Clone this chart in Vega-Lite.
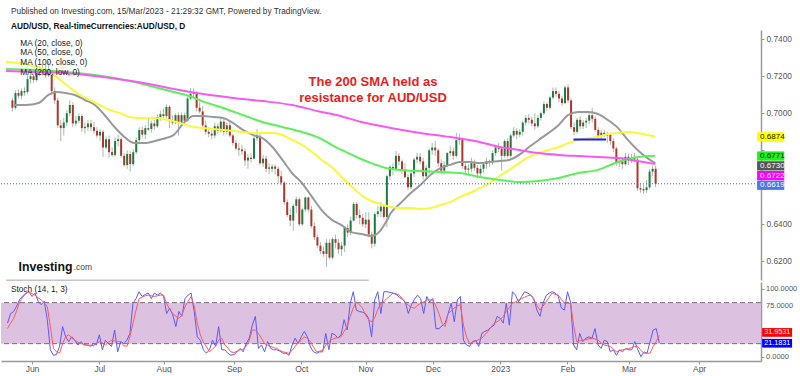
{
"$schema": "https://vega.github.io/schema/vega-lite/v6.json",
"background": "white",
"padding": {"left": 0, "top": 6, "right": 0, "bottom": 0},
"autosize": {"type": "pad"},
"config": {"view": {"stroke": null}, "font": "Liberation Sans"},
"title": {"text": "Published on Investing.com, 15/Mar/2023 - 21:29:32 GMT, Powered by TradingView.", "subtitle": "AUD/USD, Real-timeCurrencies:AUD/USD, D", "anchor": "start", "frame": "group", "dx": 10, "offset": 0, "font": "Liberation Sans", "fontSize": 8.3, "fontWeight": "normal", "color": "#333333", "subtitleFont": "Liberation Sans", "subtitleFontSize": 8.3, "subtitleFontWeight": "bold", "subtitleColor": "#111111", "subtitlePadding": 6.5, "baseline": "top"},
"spacing": 1,
"datasets": {
"candles": [
{"i":-8,"o":0.7070,"h":0.7085,"l":0.7010,"c":0.7030},
{"i":-7,"o":0.7030,"h":0.7125,"l":0.7020,"c":0.7110},
{"i":-6,"o":0.7110,"h":0.7130,"l":0.7080,"c":0.7095},
{"i":-5,"o":0.7095,"h":0.7135,"l":0.7075,"c":0.7120},
{"i":-4,"o":0.7120,"h":0.7140,"l":0.7095,"c":0.7112},
{"i":-3,"o":0.7115,"h":0.7205,"l":0.7105,"c":0.7185},
{"i":-2,"o":0.7185,"h":0.7225,"l":0.7160,"c":0.7200},
{"i":-1,"o":0.7200,"h":0.7215,"l":0.7165,"c":0.7180},
{"i":0,"o":0.7180,"h":0.7260,"l":0.7170,"c":0.7235},
{"i":1,"o":0.7235,"h":0.7255,"l":0.7200,"c":0.7220},
{"i":2,"o":0.7220,"h":0.7265,"l":0.7205,"c":0.7240},
{"i":3,"o":0.7240,"h":0.7265,"l":0.7190,"c":0.7205},
{"i":4,"o":0.7205,"h":0.7280,"l":0.7195,"c":0.7225},
{"i":5,"o":0.7225,"h":0.7235,"l":0.7105,"c":0.7120},
{"i":6,"o":0.7120,"h":0.7140,"l":0.7050,"c":0.7070},
{"i":7,"o":0.7070,"h":0.7085,"l":0.6920,"c":0.6935},
{"i":8,"o":0.6935,"h":0.6965,"l":0.6850,"c":0.6920},
{"i":9,"o":0.6920,"h":0.6975,"l":0.6880,"c":0.6950},
{"i":10,"o":0.6950,"h":0.7015,"l":0.6930,"c":0.7000},
{"i":11,"o":0.7000,"h":0.7070,"l":0.6985,"c":0.7045},
{"i":12,"o":0.7045,"h":0.7060,"l":0.6925,"c":0.6945},
{"i":13,"o":0.6945,"h":0.6985,"l":0.6930,"c":0.6960},
{"i":14,"o":0.6960,"h":0.7000,"l":0.6945,"c":0.6985},
{"i":15,"o":0.6985,"h":0.6995,"l":0.6900,"c":0.6920},
{"i":16,"o":0.6920,"h":0.6950,"l":0.6890,"c":0.6927},
{"i":17,"o":0.6925,"h":0.6965,"l":0.6905,"c":0.6945},
{"i":18,"o":0.6945,"h":0.6965,"l":0.6905,"c":0.6925},
{"i":19,"o":0.6925,"h":0.6955,"l":0.6890,"c":0.6905},
{"i":20,"o":0.6905,"h":0.6925,"l":0.6865,"c":0.6880},
{"i":21,"o":0.6880,"h":0.6915,"l":0.6850,"c":0.6900},
{"i":22,"o":0.6900,"h":0.6910,"l":0.6765,"c":0.6815},
{"i":23,"o":0.6815,"h":0.6875,"l":0.6805,"c":0.6860},
{"i":24,"o":0.6860,"h":0.6880,"l":0.6760,"c":0.6790},
{"i":25,"o":0.6790,"h":0.6815,"l":0.6765,"c":0.6775},
{"i":26,"o":0.6775,"h":0.6870,"l":0.6765,"c":0.6850},
{"i":27,"o":0.6850,"h":0.6885,"l":0.6820,"c":0.6860},
{"i":28,"o":0.6860,"h":0.6870,"l":0.6760,"c":0.6770},
{"i":29,"o":0.6770,"h":0.6785,"l":0.6710,"c":0.6720},
{"i":30,"o":0.6720,"h":0.6800,"l":0.6700,"c":0.6780},
{"i":31,"o":0.6780,"h":0.6795,"l":0.6685,"c":0.6725},
{"i":32,"o":0.6725,"h":0.6805,"l":0.6715,"c":0.6790},
{"i":33,"o":0.6790,"h":0.6870,"l":0.6780,"c":0.6855},
{"i":34,"o":0.6855,"h":0.6925,"l":0.6840,"c":0.6910},
{"i":35,"o":0.6910,"h":0.6930,"l":0.6870,"c":0.6885},
{"i":36,"o":0.6885,"h":0.6935,"l":0.6860,"c":0.6920},
{"i":37,"o":0.6920,"h":0.6975,"l":0.6905,"c":0.6912},
{"i":38,"o":0.6915,"h":0.6960,"l":0.6895,"c":0.6945},
{"i":39,"o":0.6945,"h":0.6965,"l":0.6910,"c":0.6930},
{"i":40,"o":0.6930,"h":0.6995,"l":0.6920,"c":0.6980},
{"i":41,"o":0.6980,"h":0.7015,"l":0.6960,"c":0.6995},
{"i":42,"o":0.6995,"h":0.7025,"l":0.6970,"c":0.6985},
{"i":43,"o":0.6985,"h":0.7050,"l":0.6970,"c":0.7035},
{"i":44,"o":0.7035,"h":0.7045,"l":0.6920,"c":0.6960},
{"i":45,"o":0.6960,"h":0.6990,"l":0.6935,"c":0.6950},
{"i":46,"o":0.6950,"h":0.7000,"l":0.6940,"c":0.6990},
{"i":47,"o":0.6990,"h":0.7005,"l":0.6880,"c":0.6950},
{"i":48,"o":0.6950,"h":0.7005,"l":0.6935,"c":0.6990},
{"i":49,"o":0.6990,"h":0.7000,"l":0.6945,"c":0.6960},
{"i":50,"o":0.6960,"h":0.7090,"l":0.6955,"c":0.7080},
{"i":51,"o":0.7080,"h":0.7137,"l":0.7070,"c":0.7105},
{"i":52,"o":0.7105,"h":0.7135,"l":0.7085,"c":0.7112},
{"i":53,"o":0.7110,"h":0.7120,"l":0.7010,"c":0.7030},
{"i":54,"o":0.7030,"h":0.7060,"l":0.7000,"c":0.7010},
{"i":55,"o":0.7010,"h":0.7040,"l":0.6920,"c":0.6935},
{"i":56,"o":0.6935,"h":0.6960,"l":0.6885,"c":0.6900},
{"i":57,"o":0.6900,"h":0.6925,"l":0.6870,"c":0.6890},
{"i":58,"o":0.6890,"h":0.6910,"l":0.6860,"c":0.6880},
{"i":59,"o":0.6880,"h":0.6950,"l":0.6865,"c":0.6930},
{"i":60,"o":0.6930,"h":0.6945,"l":0.6890,"c":0.6905},
{"i":61,"o":0.6905,"h":0.6980,"l":0.6895,"c":0.6955},
{"i":62,"o":0.6955,"h":0.6975,"l":0.6880,"c":0.6900},
{"i":63,"o":0.6900,"h":0.6950,"l":0.6885,"c":0.6935},
{"i":64,"o":0.6935,"h":0.6955,"l":0.6870,"c":0.6880},
{"i":65,"o":0.6880,"h":0.6890,"l":0.6825,"c":0.6840},
{"i":66,"o":0.6840,"h":0.6855,"l":0.6800,"c":0.6810},
{"i":67,"o":0.6810,"h":0.6840,"l":0.6770,"c":0.6803},
{"i":68,"o":0.6805,"h":0.6830,"l":0.6775,"c":0.6795},
{"i":69,"o":0.6795,"h":0.6810,"l":0.6715,"c":0.6745},
{"i":70,"o":0.6745,"h":0.6780,"l":0.6700,"c":0.6760},
{"i":71,"o":0.6760,"h":0.6785,"l":0.6735,"c":0.6753},
{"i":72,"o":0.6755,"h":0.6880,"l":0.6750,"c":0.6865},
{"i":73,"o":0.6865,"h":0.6915,"l":0.6850,"c":0.6872},
{"i":74,"o":0.6870,"h":0.6895,"l":0.6720,"c":0.6730},
{"i":75,"o":0.6730,"h":0.6775,"l":0.6710,"c":0.6755},
{"i":76,"o":0.6755,"h":0.6770,"l":0.6680,"c":0.6700},
{"i":77,"o":0.6700,"h":0.6730,"l":0.6670,"c":0.6707},
{"i":78,"o":0.6700,"h":0.6725,"l":0.6680,"c":0.6712},
{"i":79,"o":0.6712,"h":0.6725,"l":0.6670,"c":0.6700},
{"i":80,"o":0.6700,"h":0.6715,"l":0.6620,"c":0.6660},
{"i":81,"o":0.6660,"h":0.6690,"l":0.6610,"c":0.6625},
{"i":82,"o":0.6625,"h":0.6635,"l":0.6505,"c":0.6520},
{"i":83,"o":0.6520,"h":0.6535,"l":0.6440,"c":0.6450},
{"i":84,"o":0.6450,"h":0.6485,"l":0.6390,"c":0.6420},
{"i":85,"o":0.6420,"h":0.6510,"l":0.6365,"c":0.6500},
{"i":86,"o":0.6500,"h":0.6550,"l":0.6460,"c":0.6535},
{"i":87,"o":0.6535,"h":0.6545,"l":0.6390,"c":0.6400},
{"i":88,"o":0.6400,"h":0.6490,"l":0.6390,"c":0.6480},
{"i":89,"o":0.6480,"h":0.6550,"l":0.6465,"c":0.6545},
{"i":90,"o":0.6545,"h":0.6550,"l":0.6465,"c":0.6480},
{"i":91,"o":0.6480,"h":0.6500,"l":0.6380,"c":0.6390},
{"i":92,"o":0.6390,"h":0.6410,"l":0.6315,"c":0.6330},
{"i":93,"o":0.6330,"h":0.6345,"l":0.6270,"c":0.6285},
{"i":94,"o":0.6285,"h":0.6305,"l":0.6240,"c":0.6255},
{"i":95,"o":0.6255,"h":0.6280,"l":0.6225,"c":0.6240},
{"i":96,"o":0.6240,"h":0.6320,"l":0.6170,"c":0.6300},
{"i":97,"o":0.6300,"h":0.6320,"l":0.6210,"c":0.6220},
{"i":98,"o":0.6220,"h":0.6330,"l":0.6210,"c":0.6320},
{"i":99,"o":0.6320,"h":0.6345,"l":0.6270,"c":0.6300},
{"i":100,"o":0.6300,"h":0.6320,"l":0.6240,"c":0.6265},
{"i":101,"o":0.6265,"h":0.6305,"l":0.6230,"c":0.6285},
{"i":102,"o":0.6285,"h":0.6390,"l":0.6250,"c":0.6380},
{"i":103,"o":0.6380,"h":0.6400,"l":0.6330,"c":0.6355},
{"i":104,"o":0.6355,"h":0.6440,"l":0.6340,"c":0.6420},
{"i":105,"o":0.6420,"h":0.6520,"l":0.6415,"c":0.6510},
{"i":106,"o":0.6510,"h":0.6520,"l":0.6430,"c":0.6450},
{"i":107,"o":0.6450,"h":0.6480,"l":0.6400,"c":0.6435},
{"i":108,"o":0.6435,"h":0.6455,"l":0.6385,"c":0.6400},
{"i":109,"o":0.6400,"h":0.6465,"l":0.6380,"c":0.6425},
{"i":110,"o":0.6425,"h":0.6465,"l":0.6330,"c":0.6345},
{"i":111,"o":0.6345,"h":0.6360,"l":0.6270,"c":0.6295},
{"i":112,"o":0.6295,"h":0.6465,"l":0.6280,"c":0.6455},
{"i":113,"o":0.6455,"h":0.6500,"l":0.6440,"c":0.6470},
{"i":114,"o":0.6470,"h":0.6520,"l":0.6440,"c":0.6495},
{"i":115,"o":0.6495,"h":0.6510,"l":0.6430,"c":0.6440},
{"i":116,"o":0.6440,"h":0.6670,"l":0.6385,"c":0.6660},
{"i":117,"o":0.6660,"h":0.6720,"l":0.6640,"c":0.6710},
{"i":118,"o":0.6710,"h":0.6730,"l":0.6665,"c":0.6695},
{"i":119,"o":0.6695,"h":0.6797,"l":0.6685,"c":0.6770},
{"i":120,"o":0.6770,"h":0.6785,"l":0.6720,"c":0.6740},
{"i":121,"o":0.6740,"h":0.6750,"l":0.6670,"c":0.6695},
{"i":122,"o":0.6695,"h":0.6730,"l":0.6650,"c":0.6655},
{"i":123,"o":0.6655,"h":0.6670,"l":0.6585,"c":0.6600},
{"i":124,"o":0.6600,"h":0.6690,"l":0.6590,"c":0.6675},
{"i":125,"o":0.6675,"h":0.6760,"l":0.6655,"c":0.6750},
{"i":126,"o":0.6750,"h":0.6785,"l":0.6730,"c":0.6765},
{"i":127,"o":0.6765,"h":0.6785,"l":0.6725,"c":0.6740},
{"i":128,"o":0.6740,"h":0.6760,"l":0.6640,"c":0.6660},
{"i":129,"o":0.6660,"h":0.6720,"l":0.6645,"c":0.6705},
{"i":130,"o":0.6705,"h":0.6810,"l":0.6670,"c":0.6800},
{"i":131,"o":0.6800,"h":0.6840,"l":0.6775,"c":0.6815},
{"i":132,"o":0.6815,"h":0.6850,"l":0.6770,"c":0.6800},
{"i":133,"o":0.6800,"h":0.6810,"l":0.6710,"c":0.6730},
{"i":134,"o":0.6730,"h":0.6750,"l":0.6670,"c":0.6690},
{"i":135,"o":0.6690,"h":0.6740,"l":0.6670,"c":0.6720},
{"i":136,"o":0.6720,"h":0.6790,"l":0.6710,"c":0.6785},
{"i":137,"o":0.6785,"h":0.6825,"l":0.6770,"c":0.6795},
{"i":138,"o":0.6795,"h":0.6815,"l":0.6750,"c":0.6770},
{"i":139,"o":0.6770,"h":0.6895,"l":0.6760,"c":0.6855},
{"i":140,"o":0.6855,"h":0.6890,"l":0.6830,"c":0.6862},
{"i":141,"o":0.6860,"h":0.6870,"l":0.6700,"c":0.6715},
{"i":142,"o":0.6715,"h":0.6735,"l":0.6670,"c":0.6695},
{"i":143,"o":0.6695,"h":0.6725,"l":0.6660,"c":0.6702},
{"i":144,"o":0.6700,"h":0.6760,"l":0.6680,"c":0.6730},
{"i":145,"o":0.6730,"h":0.6750,"l":0.6690,"c":0.6705},
{"i":146,"o":0.6705,"h":0.6720,"l":0.6650,"c":0.6675},
{"i":147,"o":0.6675,"h":0.6720,"l":0.6660,"c":0.6700},
{"i":148,"o":0.6700,"h":0.6730,"l":0.6680,"c":0.6725},
{"i":149,"o":0.6725,"h":0.6760,"l":0.6700,"c":0.6740},
{"i":150,"o":0.6740,"h":0.6750,"l":0.6710,"c":0.6733},
{"i":151,"o":0.6735,"h":0.6800,"l":0.6720,"c":0.6785},
{"i":152,"o":0.6785,"h":0.6830,"l":0.6770,"c":0.6815},
{"i":153,"o":0.6815,"h":0.6840,"l":0.6790,"c":0.6808},
{"i":154,"o":0.6810,"h":0.6820,"l":0.6690,"c":0.6770},
{"i":155,"o":0.6770,"h":0.6860,"l":0.6760,"c":0.6850},
{"i":156,"o":0.6850,"h":0.6865,"l":0.6760,"c":0.6770},
{"i":157,"o":0.6770,"h":0.6890,"l":0.6760,"c":0.6880},
{"i":158,"o":0.6880,"h":0.6925,"l":0.6870,"c":0.6905},
{"i":159,"o":0.6905,"h":0.6920,"l":0.6860,"c":0.6885},
{"i":160,"o":0.6885,"h":0.6915,"l":0.6870,"c":0.6900},
{"i":161,"o":0.6900,"h":0.6960,"l":0.6880,"c":0.6950},
{"i":162,"o":0.6950,"h":0.6990,"l":0.6935,"c":0.6975},
{"i":163,"o":0.6975,"h":0.6995,"l":0.6945,"c":0.6965},
{"i":164,"o":0.6965,"h":0.6980,"l":0.6930,"c":0.6945},
{"i":165,"o":0.6945,"h":0.7000,"l":0.6910,"c":0.6930},
{"i":166,"o":0.6930,"h":0.6990,"l":0.6920,"c":0.6975},
{"i":167,"o":0.6975,"h":0.7010,"l":0.6960,"c":0.7000},
{"i":168,"o":0.7000,"h":0.7065,"l":0.6990,"c":0.7050},
{"i":169,"o":0.7050,"h":0.7060,"l":0.7015,"c":0.7030},
{"i":170,"o":0.7030,"h":0.7095,"l":0.7020,"c":0.7085},
{"i":171,"o":0.7085,"h":0.7140,"l":0.7075,"c":0.7120},
{"i":172,"o":0.7120,"h":0.7140,"l":0.7090,"c":0.7105},
{"i":173,"o":0.7105,"h":0.7120,"l":0.7060,"c":0.7080},
{"i":174,"o":0.7080,"h":0.7095,"l":0.7040,"c":0.7055},
{"i":175,"o":0.7055,"h":0.7150,"l":0.7050,"c":0.7140},
{"i":176,"o":0.7140,"h":0.7157,"l":0.7055,"c":0.7070},
{"i":177,"o":0.7070,"h":0.7080,"l":0.6915,"c":0.6925},
{"i":178,"o":0.6925,"h":0.6950,"l":0.6880,"c":0.6900},
{"i":179,"o":0.6900,"h":0.6975,"l":0.6890,"c":0.6965},
{"i":180,"o":0.6965,"h":0.6985,"l":0.6915,"c":0.6930},
{"i":181,"o":0.6930,"h":0.6965,"l":0.6915,"c":0.6950},
{"i":182,"o":0.6950,"h":0.6975,"l":0.6920,"c":0.6960},
{"i":183,"o":0.6960,"h":0.7010,"l":0.6940,"c":0.6990},
{"i":184,"o":0.6990,"h":0.7030,"l":0.6950,"c":0.6970},
{"i":185,"o":0.6970,"h":0.6985,"l":0.6900,"c":0.6910},
{"i":186,"o":0.6910,"h":0.6925,"l":0.6860,"c":0.6880},
{"i":187,"o":0.6880,"h":0.6910,"l":0.6855,"c":0.6895},
{"i":188,"o":0.6895,"h":0.6910,"l":0.6870,"c":0.6880},
{"i":189,"o":0.6880,"h":0.6900,"l":0.6840,"c":0.6887},
{"i":190,"o":0.6885,"h":0.6895,"l":0.6830,"c":0.6850},
{"i":191,"o":0.6850,"h":0.6865,"l":0.6790,"c":0.6810},
{"i":192,"o":0.6810,"h":0.6820,"l":0.6715,"c":0.6735},
{"i":193,"o":0.6735,"h":0.6760,"l":0.6710,"c":0.6742},
{"i":194,"o":0.6740,"h":0.6765,"l":0.6700,"c":0.6725},
{"i":195,"o":0.6725,"h":0.6785,"l":0.6715,"c":0.6765},
{"i":196,"o":0.6765,"h":0.6780,"l":0.6720,"c":0.6745},
{"i":197,"o":0.6745,"h":0.6780,"l":0.6730,"c":0.6760},
{"i":198,"o":0.6760,"h":0.6785,"l":0.6735,"c":0.6750},
{"i":199,"o":0.6750,"h":0.6760,"l":0.6580,"c":0.6595},
{"i":200,"o":0.6595,"h":0.6620,"l":0.6570,"c":0.6588},
{"i":201,"o":0.6590,"h":0.6615,"l":0.6565,"c":0.6583},
{"i":202,"o":0.6585,"h":0.6640,"l":0.6570,"c":0.6600},
{"i":203,"o":0.6600,"h":0.6700,"l":0.6590,"c":0.6685},
{"i":204,"o":0.6685,"h":0.6715,"l":0.6660,"c":0.6700},
{"i":205,"o":0.6700,"h":0.6715,"l":0.6600,"c":0.6619}
],
"ma": [
{"m":"20","i":-7.5,"v":0.7045},{"m":"20","i":-3.6,"v":0.7045},{"m":"20","i":0.7,"v":0.7056},{"m":"20","i":3.9,"v":0.7099},{"m":"20","i":6.9,"v":0.7115},{"m":"20","i":9.5,"v":0.7110},{"m":"20","i":12.7,"v":0.7099},{"m":"20","i":16,"v":0.7072},{"m":"20","i":19.3,"v":0.7045},{"m":"20","i":22.5,"v":0.6991},{"m":"20","i":25.8,"v":0.6926},{"m":"20","i":29.1,"v":0.6872},{"m":"20","i":32.4,"v":0.6839},{"m":"20","i":35.6,"v":0.6839},{"m":"20","i":40.5,"v":0.6856},{"m":"20","i":45.4,"v":0.6883},{"m":"20","i":48.7,"v":0.6948},{"m":"20","i":52,"v":0.6985},{"m":"20","i":55.2,"v":0.6985},{"m":"20","i":58.5,"v":0.6980},{"m":"20","i":61.8,"v":0.6975},{"m":"20","i":65,"v":0.6948},{"m":"20","i":68.3,"v":0.6910},{"m":"20","i":71.6,"v":0.6883},{"m":"20","i":74.8,"v":0.6866},{"m":"20","i":78.1,"v":0.6818},{"m":"20","i":81.4,"v":0.6748},{"m":"20","i":84.6,"v":0.6677},{"m":"20","i":87.9,"v":0.6623},{"m":"20","i":91.2,"v":0.6548},{"m":"20","i":94.4,"v":0.6477},{"m":"20","i":97.7,"v":0.6425},{"m":"20","i":101,"v":0.6396},{"m":"20","i":104.2,"v":0.6358},{"m":"20","i":107.5,"v":0.6348},{"m":"20","i":110.8,"v":0.6337},{"m":"20","i":114,"v":0.6369},{"m":"20","i":115.7,"v":0.6412},{"m":"20","i":117.3,"v":0.6461},{"m":"20","i":120.6,"v":0.6515},{"m":"20","i":123.9,"v":0.6569},{"m":"20","i":127.1,"v":0.6612},{"m":"20","i":130.4,"v":0.6667},{"m":"20","i":133.7,"v":0.6704},{"m":"20","i":136.9,"v":0.6721},{"m":"20","i":140.2,"v":0.6737},{"m":"20","i":143.5,"v":0.6737},{"m":"20","i":146.7,"v":0.6731},{"m":"20","i":150,"v":0.6737},{"m":"20","i":153.3,"v":0.6742},{"m":"20","i":156.5,"v":0.6748},{"m":"20","i":159.8,"v":0.6775},{"m":"20","i":163.1,"v":0.6818},{"m":"20","i":166.3,"v":0.6856},{"m":"20","i":169.6,"v":0.6894},{"m":"20","i":172.9,"v":0.6937},{"m":"20","i":176.1,"v":0.6991},{"m":"20","i":179.4,"v":0.7007},{"m":"20","i":182.7,"v":0.7007},{"m":"20","i":185.9,"v":0.6996},{"m":"20","i":189.2,"v":0.6964},{"m":"20","i":192.5,"v":0.6921},{"m":"20","i":195.8,"v":0.6856},{"m":"20","i":199,"v":0.6802},{"m":"20","i":202.3,"v":0.6758},{"m":"20","i":204.9,"v":0.6730},
{"m":"50","i":-10.1,"v":0.7277},{"m":"50","i":-3.6,"v":0.7266},{"m":"50","i":1.3,"v":0.7245},{"m":"50","i":4.6,"v":0.7218},{"m":"50","i":7.8,"v":0.7180},{"m":"50","i":11.1,"v":0.7137},{"m":"50","i":14.4,"v":0.7099},{"m":"50","i":17.6,"v":0.7072},{"m":"50","i":20.9,"v":0.7045},{"m":"50","i":24.2,"v":0.7018},{"m":"50","i":27.5,"v":0.7002},{"m":"50","i":30.7,"v":0.6980},{"m":"50","i":34,"v":0.6975},{"m":"50","i":38.9,"v":0.6975},{"m":"50","i":43.8,"v":0.6964},{"m":"50","i":48.7,"v":0.6942},{"m":"50","i":52,"v":0.6926},{"m":"50","i":55.2,"v":0.6921},{"m":"50","i":58.5,"v":0.6915},{"m":"50","i":61.8,"v":0.6910},{"m":"50","i":65,"v":0.6904},{"m":"50","i":68.3,"v":0.6899},{"m":"50","i":71.6,"v":0.6894},{"m":"50","i":74.8,"v":0.6894},{"m":"50","i":78.1,"v":0.6894},{"m":"50","i":81.4,"v":0.6883},{"m":"50","i":84.6,"v":0.6856},{"m":"50","i":87.9,"v":0.6829},{"m":"50","i":91.2,"v":0.6791},{"m":"50","i":94.4,"v":0.6748},{"m":"50","i":97.7,"v":0.6710},{"m":"50","i":101,"v":0.6656},{"m":"50","i":104.2,"v":0.6607},{"m":"50","i":107.5,"v":0.6558},{"m":"50","i":110.8,"v":0.6526},{"m":"50","i":114,"v":0.6510},{"m":"50","i":117.3,"v":0.6494},{"m":"50","i":120.6,"v":0.6488},{"m":"50","i":123.9,"v":0.6488},{"m":"50","i":127.1,"v":0.6483},{"m":"50","i":130.4,"v":0.6488},{"m":"50","i":133.7,"v":0.6504},{"m":"50","i":136.9,"v":0.6520},{"m":"50","i":140.2,"v":0.6548},{"m":"50","i":143.5,"v":0.6569},{"m":"50","i":146.7,"v":0.6596},{"m":"50","i":150,"v":0.6623},{"m":"50","i":153.3,"v":0.6661},{"m":"50","i":156.5,"v":0.6694},{"m":"50","i":159.8,"v":0.6731},{"m":"50","i":163.1,"v":0.6764},{"m":"50","i":166.3,"v":0.6785},{"m":"50","i":169.6,"v":0.6802},{"m":"50","i":172.9,"v":0.6818},{"m":"50","i":176.1,"v":0.6839},{"m":"50","i":179.4,"v":0.6856},{"m":"50","i":182.7,"v":0.6866},{"m":"50","i":185.9,"v":0.6872},{"m":"50","i":189.2,"v":0.6888},{"m":"50","i":192.5,"v":0.6894},{"m":"50","i":195.8,"v":0.6899},{"m":"50","i":199,"v":0.6894},{"m":"50","i":202.3,"v":0.6883},{"m":"50","i":204.9,"v":0.6874},
{"m":"100","i":-10.1,"v":0.7239},{"m":"100","i":-0.3,"v":0.7234},{"m":"100","i":9.5,"v":0.7223},{"m":"100","i":19.3,"v":0.7207},{"m":"100","i":25.8,"v":0.7191},{"m":"100","i":32.4,"v":0.7169},{"m":"100","i":38.9,"v":0.7142},{"m":"100","i":45.4,"v":0.7115},{"m":"100","i":50.3,"v":0.7095},{"m":"100","i":55.2,"v":0.7063},{"m":"100","i":61.8,"v":0.7029},{"m":"100","i":68.3,"v":0.6991},{"m":"100","i":74.8,"v":0.6953},{"m":"100","i":81.4,"v":0.6926},{"m":"100","i":87.9,"v":0.6899},{"m":"100","i":94.4,"v":0.6861},{"m":"100","i":97.7,"v":0.6829},{"m":"100","i":101,"v":0.6802},{"m":"100","i":105.9,"v":0.6764},{"m":"100","i":110.8,"v":0.6731},{"m":"100","i":115.7,"v":0.6704},{"m":"100","i":120.6,"v":0.6694},{"m":"100","i":127.1,"v":0.6688},{"m":"100","i":133.7,"v":0.6683},{"m":"100","i":140.2,"v":0.6677},{"m":"100","i":146.7,"v":0.6656},{"m":"100","i":153.3,"v":0.6640},{"m":"100","i":159.8,"v":0.6629},{"m":"100","i":166.3,"v":0.6634},{"m":"100","i":172.9,"v":0.6650},{"m":"100","i":179.4,"v":0.6677},{"m":"100","i":185.9,"v":0.6694},{"m":"100","i":192.5,"v":0.6737},{"m":"100","i":199,"v":0.6764},{"m":"100","i":204.9,"v":0.6771},
{"m":"200","i":-10.1,"v":0.7229},{"m":"200","i":-0.3,"v":0.7223},{"m":"200","i":9.5,"v":0.7218},{"m":"200","i":19.3,"v":0.7202},{"m":"200","i":29.1,"v":0.7180},{"m":"200","i":38.9,"v":0.7153},{"m":"200","i":45.4,"v":0.7131},{"m":"200","i":55.2,"v":0.7104},{"m":"200","i":65,"v":0.7083},{"m":"200","i":74.8,"v":0.7066},{"m":"200","i":84.6,"v":0.7045},{"m":"200","i":94.4,"v":0.7007},{"m":"200","i":99.3,"v":0.6991},{"m":"200","i":107.5,"v":0.6953},{"m":"200","i":117.3,"v":0.6921},{"m":"200","i":127.1,"v":0.6894},{"m":"200","i":136.9,"v":0.6872},{"m":"200","i":146.7,"v":0.6845},{"m":"200","i":153.3,"v":0.6818},{"m":"200","i":159.8,"v":0.6802},{"m":"200","i":166.3,"v":0.6785},{"m":"200","i":172.9,"v":0.6775},{"m":"200","i":179.4,"v":0.6769},{"m":"200","i":185.9,"v":0.6764},{"m":"200","i":192.5,"v":0.6758},{"m":"200","i":199,"v":0.6742},{"m":"200","i":204.9,"v":0.6726}
],
"stoch": [
{"i":-8,"k":50,"d":42},{"i":-7,"k":64,"d":50},{"i":-6,"k":67,"d":57},{"i":-5,"k":75,"d":68},{"i":-4,"k":85,"d":81},{"i":-3,"k":90,"d":88},{"i":-2,"k":94,"d":93},{"i":-1,"k":96,"d":96},{"i":0,"k":89,"d":93},{"i":1,"k":94,"d":91},{"i":2,"k":82,"d":87},{"i":3,"k":77,"d":84},{"i":4,"k":82,"d":80},{"i":5,"k":55,"d":74},{"i":6,"k":11,"d":45},{"i":7,"k":3,"d":13},{"i":8,"k":4,"d":8},{"i":9,"k":16,"d":6},{"i":10,"k":45,"d":20},{"i":11,"k":30,"d":30},{"i":12,"k":23,"d":33},{"i":13,"k":30,"d":28},{"i":14,"k":25,"d":25},{"i":15,"k":18,"d":22},{"i":16,"k":23,"d":20},{"i":17,"k":18,"d":19},{"i":18,"k":18,"d":18},{"i":19,"k":16,"d":18},{"i":20,"k":20,"d":17},{"i":21,"k":18,"d":20},{"i":22,"k":33,"d":23},{"i":23,"k":11,"d":21},{"i":24,"k":25,"d":18},{"i":25,"k":20,"d":22},{"i":26,"k":16,"d":25},{"i":27,"k":40,"d":24},{"i":28,"k":8,"d":23},{"i":29,"k":23,"d":23},{"i":30,"k":20,"d":17},{"i":31,"k":25,"d":16},{"i":32,"k":35,"d":30},{"i":33,"k":79,"d":50},{"i":34,"k":86,"d":69},{"i":35,"k":96,"d":86},{"i":36,"k":89,"d":88},{"i":37,"k":92,"d":90},{"i":38,"k":94,"d":91},{"i":39,"k":86,"d":90},{"i":40,"k":94,"d":89},{"i":41,"k":91,"d":90},{"i":42,"k":94,"d":91},{"i":43,"k":89,"d":91},{"i":44,"k":64,"d":79},{"i":45,"k":72,"d":70},{"i":46,"k":62,"d":64},{"i":47,"k":45,"d":60},{"i":48,"k":67,"d":57},{"i":49,"k":60,"d":62},{"i":50,"k":86,"d":74},{"i":51,"k":91,"d":82},{"i":52,"k":94,"d":89},{"i":53,"k":67,"d":75},{"i":54,"k":30,"d":50},{"i":55,"k":25,"d":33},{"i":56,"k":11,"d":22},{"i":57,"k":6,"d":16},{"i":58,"k":11,"d":8},{"i":59,"k":25,"d":12},{"i":60,"k":16,"d":16},{"i":61,"k":45,"d":25},{"i":62,"k":11,"d":28},{"i":63,"k":11,"d":18},{"i":64,"k":6,"d":14},{"i":65,"k":3,"d":8},{"i":66,"k":4,"d":7},{"i":67,"k":8,"d":9},{"i":68,"k":13,"d":11},{"i":69,"k":8,"d":12},{"i":70,"k":20,"d":16},{"i":71,"k":28,"d":25},{"i":72,"k":47,"d":40},{"i":73,"k":60,"d":40},{"i":74,"k":13,"d":35},{"i":75,"k":18,"d":28},{"i":76,"k":8,"d":20},{"i":77,"k":23,"d":18},{"i":78,"k":13,"d":16},{"i":79,"k":11,"d":14},{"i":80,"k":11,"d":13},{"i":81,"k":9,"d":10},{"i":82,"k":6,"d":8},{"i":83,"k":6,"d":7},{"i":84,"k":3,"d":6},{"i":85,"k":18,"d":10},{"i":86,"k":28,"d":16},{"i":87,"k":20,"d":22},{"i":88,"k":30,"d":25},{"i":89,"k":38,"d":30},{"i":90,"k":30,"d":28},{"i":91,"k":15,"d":23},{"i":92,"k":8,"d":15},{"i":93,"k":6,"d":8},{"i":94,"k":8,"d":9},{"i":95,"k":8,"d":10},{"i":96,"k":35,"d":18},{"i":97,"k":11,"d":23},{"i":98,"k":35,"d":26},{"i":99,"k":33,"d":28},{"i":100,"k":28,"d":29},{"i":101,"k":33,"d":30},{"i":102,"k":55,"d":38},{"i":103,"k":40,"d":45},{"i":104,"k":79,"d":60},{"i":105,"k":96,"d":72},{"i":106,"k":69,"d":81},{"i":107,"k":67,"d":77},{"i":108,"k":66,"d":72},{"i":109,"k":64,"d":62},{"i":110,"k":57,"d":55},{"i":111,"k":30,"d":52},{"i":112,"k":84,"d":58},{"i":113,"k":96,"d":70},{"i":114,"k":64,"d":79},{"i":115,"k":96,"d":82},{"i":116,"k":96,"d":86},{"i":117,"k":95,"d":90},{"i":118,"k":94,"d":94},{"i":119,"k":92,"d":93},{"i":120,"k":88,"d":91},{"i":121,"k":85,"d":86},{"i":122,"k":81,"d":80},{"i":123,"k":64,"d":76},{"i":124,"k":77,"d":73},{"i":125,"k":85,"d":72},{"i":126,"k":91,"d":76},{"i":127,"k":86,"d":79},{"i":128,"k":64,"d":81},{"i":129,"k":89,"d":84},{"i":130,"k":81,"d":84},{"i":131,"k":86,"d":84},{"i":132,"k":42,"d":75},{"i":133,"k":42,"d":64},{"i":134,"k":46,"d":50},{"i":135,"k":50,"d":45},{"i":136,"k":64,"d":64},{"i":137,"k":79,"d":68},{"i":138,"k":52,"d":72},{"i":139,"k":84,"d":75},{"i":140,"k":89,"d":77},{"i":141,"k":25,"d":47},{"i":142,"k":18,"d":30},{"i":143,"k":16,"d":20},{"i":144,"k":23,"d":22},{"i":145,"k":25,"d":24},{"i":146,"k":16,"d":26},{"i":147,"k":35,"d":28},{"i":148,"k":38,"d":33},{"i":149,"k":40,"d":38},{"i":150,"k":44,"d":44},{"i":151,"k":47,"d":50},{"i":152,"k":60,"d":52},{"i":153,"k":57,"d":55},{"i":154,"k":50,"d":60},{"i":155,"k":79,"d":67},{"i":156,"k":47,"d":73},{"i":157,"k":96,"d":79},{"i":158,"k":91,"d":81},{"i":159,"k":81,"d":84},{"i":160,"k":89,"d":86},{"i":161,"k":96,"d":88},{"i":162,"k":94,"d":90},{"i":163,"k":91,"d":91},{"i":164,"k":86,"d":84},{"i":165,"k":69,"d":76},{"i":166,"k":60,"d":69},{"i":167,"k":79,"d":75},{"i":168,"k":90,"d":81},{"i":169,"k":94,"d":88},{"i":170,"k":96,"d":94},{"i":171,"k":94,"d":92},{"i":172,"k":89,"d":91},{"i":173,"k":72,"d":85},{"i":174,"k":69,"d":79},{"i":175,"k":96,"d":79},{"i":176,"k":81,"d":79},{"i":177,"k":18,"d":47},{"i":178,"k":11,"d":23},{"i":179,"k":35,"d":24},{"i":180,"k":23,"d":25},{"i":181,"k":28,"d":26},{"i":182,"k":30,"d":27},{"i":183,"k":28,"d":28},{"i":184,"k":42,"d":27},{"i":185,"k":18,"d":25},{"i":186,"k":13,"d":21},{"i":187,"k":25,"d":18},{"i":188,"k":23,"d":17},{"i":189,"k":8,"d":16},{"i":190,"k":11,"d":12},{"i":191,"k":3,"d":8},{"i":192,"k":11,"d":10},{"i":193,"k":8,"d":11},{"i":194,"k":13,"d":12},{"i":195,"k":11,"d":13},{"i":196,"k":11,"d":14},{"i":197,"k":23,"d":16},{"i":198,"k":11,"d":16},{"i":199,"k":1,"d":10},{"i":200,"k":8,"d":6},{"i":201,"k":6,"d":6},{"i":202,"k":23,"d":6},{"i":203,"k":40,"d":16},{"i":204,"k":42,"d":23},{"i":205,"k":21.1831,"d":31.9531}
],
"pbadge": [
{"s":"MA50","lab":"0.6874","at":0.6873},
{"s":"MA100","lab":"0.6771","at":0.6769},
{"s":"MA20","lab":"0.6730","at":0.6716},
{"s":"MA200","lab":"0.6722","at":0.6663},
{"s":"Price","lab":"0.6619","at":0.6611}
],
"sbadge": [
{"s":"D","lab":"31.9531","at":36.4},
{"s":"K","lab":"21.1831","at":20.6}
],
"slabels": [
{"t":"75.0000","v":75},
{"t":"0.0000","v":0}
]
},
"vconcat": [
{
"width": 760,
"height": 250,
"layer": [
{"data": {"name": "candles"},
 "mark": {"type": "rule", "color": "#a9bbb0", "strokeWidth": 1},
 "encoding": {
  "x": {"field": "i", "type": "quantitative", "scale": {"domain": [-10.13, 238.24], "nice": false, "zero": false}, "axis": null},
  "y": {"field": "l", "type": "quantitative", "scale": {"domain": [0.60989, 0.74503], "nice": false, "zero": false},
        "axis": {"orient": "right", "values": [0.62,0.63,0.64,0.65,0.66,0.67,0.68,0.69,0.70,0.71,0.72,0.73,0.74], "labelExpr": "datum.value > 0.655 && datum.value < 0.685 ? '' : format(datum.value, '.4f')", "title": null, "grid": false, "labelFontSize": 8.3, "labelColor": "#555555", "labelFont": "Liberation Sans", "tickColor": "#999999", "domainColor": "#999999", "domainWidth": 1.5, "tickSize": 3, "labelPadding": 2}},
  "y2": {"field": "h"}
 }},
{"data": {"name": "candles"},
 "mark": {"type": "bar", "size": 2},
 "encoding": {
  "x": {"field": "i", "type": "quantitative", "axis": null},
  "y": {"field": "o", "type": "quantitative"},
  "y2": {"field": "c"},
  "color": {"condition": {"test": "datum.c >= datum.o", "value": "#1e7b40"}, "value": "#b2352b"}
 }},
{"data": {"name": "ma"},
 "mark": {"type": "line", "strokeWidth": 2, "interpolate": "monotone"},
 "encoding": {
  "x": {"field": "i", "type": "quantitative", "axis": null},
  "y": {"field": "v", "type": "quantitative"},
  "color": {"field": "m", "type": "nominal",
    "scale": {"domain": ["20","50","100","200"], "range": ["#999999","#f8f83c","#5cf05c","#f55af5"]},
    "legend": {"orient": "none", "legendX": 11, "legendY": 9.5, "title": null, "symbolSize": 0, "symbolOpacity": 0, "symbolStrokeWidth": 0, "labelOffset": 0, "labelFontSize": 8.3, "labelFont": "Liberation Sans", "labelColor": "#222222", "rowPadding": 0.8,
      "labelExpr": "'MA (' + datum.label + ', ' + (datum.label == '200' ? 'low' : 'close') + ', 0)'"}}
 }},
{"data": {"values": [{}]},
 "mark": {"type": "rule", "color": "#3a5fe0", "strokeDash": [1, 2], "strokeWidth": 1},
 "encoding": {"y": {"datum": 0.6619, "type": "quantitative"}}},
{"data": {"values": [{}]},
 "mark": {"type": "rule", "color": "#1a1aff", "strokeWidth": 2},
 "encoding": {"x": {"datum": 177.8, "type": "quantitative", "axis": null}, "x2": {"datum": 188.6}, "y": {"datum": 0.6858, "type": "quantitative"}}},
{"data": {"values": [{}]},
 "mark": {"type": "rule", "color": "#c4c4c4", "strokeWidth": 1.5},
 "encoding": {"x": {"datum": -10.13, "type": "quantitative", "axis": null}, "x2": {"datum": 110}, "y": {"datum": 0.6098, "type": "quantitative"}}},
{"data": {"values": [{"note": "The 200 SMA held as\nresistance for AUD/USD"}]},
 "mark": {"type": "text", "color": "#ee1c1c", "fontSize": 13, "fontWeight": "bold", "font": "Liberation Sans", "align": "center", "baseline": "middle", "lineBreak": "\n", "lineHeight": 16},
 "encoding": {"x": {"datum": 111.4, "type": "quantitative", "axis": null}, "y": {"datum": 0.7169, "type": "quantitative"}, "text": {"field": "note"}}},
{"data": {"values": [{"t": "Investing"}]},
 "mark": {"type": "text", "color": "#111111", "fontSize": 12.3, "fontWeight": "bold", "font": "Liberation Sans", "align": "left", "baseline": "middle"},
 "encoding": {"x": {"datum": -5.98, "type": "quantitative", "axis": null}, "y": {"datum": 0.6171, "type": "quantitative"}, "text": {"field": "t"}}},
{"data": {"values": [{"t": ".com"}]},
 "mark": {"type": "text", "color": "#444444", "fontSize": 8.5, "font": "Liberation Sans", "align": "left", "baseline": "middle"},
 "encoding": {"x": {"datum": 12.3, "type": "quantitative", "axis": null}, "y": {"datum": 0.6167, "type": "quantitative"}, "text": {"field": "t"}}},
{"data": {"name": "pbadge"},
 "transform": [{"calculate": "datum.at + 0.0025", "as": "top"}, {"calculate": "datum.at - 0.0025", "as": "bot"}],
 "mark": {"type": "rect"},
 "encoding": {"x": {"datum": 238.6, "type": "quantitative", "axis": null}, "x2": {"datum": 247.6},
  "y": {"field": "top", "type": "quantitative"}, "y2": {"field": "bot"},
  "fill": {"condition": [{"test": "datum.s === 'MA50'", "value": "#ffff00"}, {"test": "datum.s === 'MA100'", "value": "#1ef01e"}, {"test": "datum.s === 'MA20'", "value": "#555555"}, {"test": "datum.s === 'MA200'", "value": "#ff00ff"}], "value": "#4a78e6"}}},
{"data": {"name": "pbadge"},
 "mark": {"type": "text", "fontSize": 8, "font": "Liberation Sans", "align": "left", "baseline": "middle"},
 "encoding": {"x": {"datum": 239.6, "type": "quantitative", "axis": null},
  "y": {"field": "at", "type": "quantitative"}, "text": {"field": "lab"},
  "color": {"condition": [{"test": "datum.s === 'MA50' || datum.s === 'MA100'", "value": "#111111"}], "value": "#ffffff"}}}
]
},
{
"width": 760,
"height": 79,
"layer": [
{"data": {"values": [{}]},
 "mark": {"type": "rect", "color": "#ddc1e1"},
 "encoding": {
  "x": {"datum": -10.13, "type": "quantitative", "scale": {"domain": [-10.13, 238.24], "nice": false, "zero": false},
        "axis": {"values": [0,22,43,66,88,109,131,153,175,195,218], "labelExpr": "['Jun','Jul','Aug','Sep','Oct','Nov','Dec','2023','Feb','Mar','Apr'][indexof([0,22,43,66,88,109,131,153,175,195,218], datum.value)]", "title": null, "grid": false, "labelFontSize": 8.5, "labelColor": "#555555", "labelFont": "Liberation Sans", "tickColor": "#999999", "domainColor": "#999999", "domainWidth": 1.5, "tickSize": 3, "labelPadding": 0, "labelFlush": false}},
  "x2": {"datum": 238.24},
  "y": {"datum": 80, "type": "quantitative", "scale": {"domain": [-5.4, 110.2], "nice": false, "zero": false},
        "axis": {"orient": "right", "values": [0, 75, 100], "labels": false, "title": null, "grid": false, "tickColor": "#999999", "domainColor": "#999999", "domainWidth": 1.5, "tickSize": 3}},
  "y2": {"datum": 20}
 }},
{"data": {"values": [{"lv": 20}, {"lv": 80}]},
 "mark": {"type": "rule", "color": "#7d6a7d", "strokeDash": [5, 3], "strokeWidth": 1},
 "encoding": {"y": {"field": "lv", "type": "quantitative"}}},
{"data": {"name": "stoch"},
 "mark": {"type": "line", "color": "#5a5aff", "strokeWidth": 1},
 "encoding": {"x": {"field": "i", "type": "quantitative"}, "y": {"field": "k", "type": "quantitative"}}},
{"data": {"name": "stoch"},
 "mark": {"type": "line", "color": "#ff5a5a", "strokeWidth": 1},
 "encoding": {"x": {"field": "i", "type": "quantitative"}, "y": {"field": "d", "type": "quantitative"}}},
{"data": {"values": [{"t": "Stoch (14, 1, 3)"}]},
 "mark": {"type": "text", "color": "#222222", "fontSize": 8.3, "font": "Liberation Sans", "align": "left", "baseline": "middle"},
 "encoding": {"x": {"datum": -6.9, "type": "quantitative"}, "y": {"datum": 98, "type": "quantitative"}, "text": {"field": "t"}}},
{"data": {"values": [{"t": "100.0000"}]},
 "mark": {"type": "text", "color": "#555555", "fontSize": 7.5, "font": "Liberation Sans", "align": "left", "baseline": "middle"},
 "encoding": {"x": {"datum": 239.87, "type": "quantitative"}, "y": {"datum": 100, "type": "quantitative"}, "text": {"field": "t"}}},
{"data": {"name": "slabels"},
 "mark": {"type": "text", "color": "#555555", "fontSize": 7.5, "font": "Liberation Sans", "align": "left", "baseline": "middle"},
 "encoding": {"x": {"datum": 239.87, "type": "quantitative"}, "y": {"field": "v", "type": "quantitative"}, "text": {"field": "t"}}},
{"data": {"name": "sbadge"},
 "transform": [{"calculate": "datum.at + 6.4", "as": "top"}, {"calculate": "datum.at - 6.4", "as": "bot"}],
 "mark": {"type": "rect"},
 "encoding": {"x": {"datum": 238.6, "type": "quantitative"}, "x2": {"datum": 248.4},
  "y": {"field": "top", "type": "quantitative"}, "y2": {"field": "bot"},
  "fill": {"condition": [{"test": "datum.s === 'D'", "value": "#ff0000"}], "value": "#0000ff"}}},
{"data": {"name": "sbadge"},
 "mark": {"type": "text", "fontSize": 7.2, "font": "Liberation Sans", "align": "left", "baseline": "middle", "color": "#ffffff"},
 "encoding": {"x": {"datum": 239.3, "type": "quantitative"},
  "y": {"field": "at", "type": "quantitative"}, "text": {"field": "lab"}}}
]
}
]
}
